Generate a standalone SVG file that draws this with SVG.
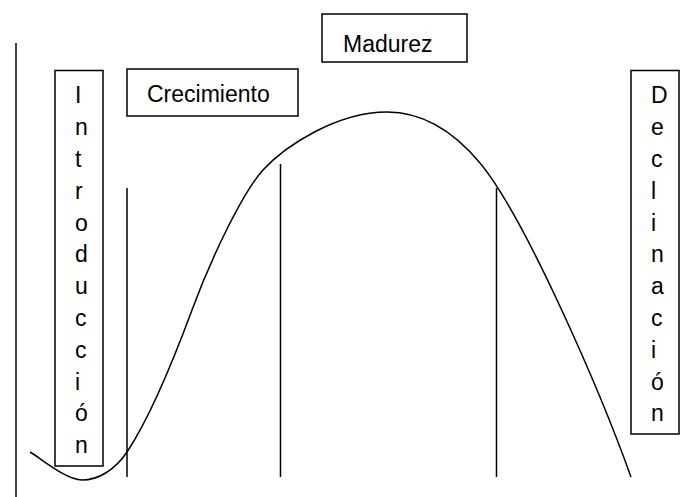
<svg xmlns="http://www.w3.org/2000/svg" width="693" height="497" viewBox="0 0 693 497">
<style>
.box{fill:#fff;stroke:#000;stroke-width:1.5}
.ln{stroke:#000;stroke-width:1.5;fill:none}
.t{font-family:"Liberation Sans",Arial,sans-serif;font-size:23px;fill:#000}
</style>
<rect width="693" height="497" fill="#fff"/>
<g id="connectors">
<line class="ln" x1="16" y1="43" x2="16" y2="497"/>
<line class="ln" x1="127" y1="188" x2="127" y2="477"/>
<line class="ln" x1="280.5" y1="164" x2="280.5" y2="477"/>
<line class="ln" x1="496.5" y1="188" x2="496.5" y2="477"/>
<path class="ln" d="M30,452 C38.7,456.7 65.8,480 82,480 C98.2,480 115,470 127,452 C149,419 174,358.6 192,310 C212,256 243,192 263,170 C285,146 337,112 387,112 C422,112 452,129.4 480,163 C525,217 601,393 631,477"/>
</g>
<g id="introduccion">
<rect class="box" x="55" y="70.5" width="48" height="395.5"/>
<text class="t" x="75" y="103.3">I</text>
<text class="t" x="75" y="135.1">n</text>
<text class="t" x="75" y="166.9">t</text>
<text class="t" x="75" y="198.7">r</text>
<text class="t" x="75" y="230.5">o</text>
<text class="t" x="75" y="262.3">d</text>
<text class="t" x="75" y="294.1">u</text>
<text class="t" x="75" y="325.9">c</text>
<text class="t" x="75" y="357.7">c</text>
<text class="t" x="75" y="389.5">i</text>
<text class="t" x="75" y="421.3">ó</text>
<text class="t" x="75" y="453.1">n</text>
</g>
<g id="crecimiento">
<rect class="box" x="127" y="69" width="171" height="47"/>
<text class="t" x="147" y="101.7">Crecimiento</text>
</g>
<g id="madurez">
<rect class="box" x="322" y="14" width="145" height="48"/>
<text class="t" x="343" y="51.7">Madurez</text>
</g>
<g id="declinacion">
<rect class="box" x="631" y="70.5" width="48" height="363.5"/>
<text class="t" x="651" y="103.3">D</text>
<text class="t" x="651" y="135.1">e</text>
<text class="t" x="651" y="166.9">c</text>
<text class="t" x="651" y="198.7">l</text>
<text class="t" x="651" y="230.5">i</text>
<text class="t" x="651" y="262.3">n</text>
<text class="t" x="651" y="294.1">a</text>
<text class="t" x="651" y="325.9">c</text>
<text class="t" x="651" y="357.7">i</text>
<text class="t" x="651" y="389.5">ó</text>
<text class="t" x="651" y="421.3">n</text>
</g>
</svg>
